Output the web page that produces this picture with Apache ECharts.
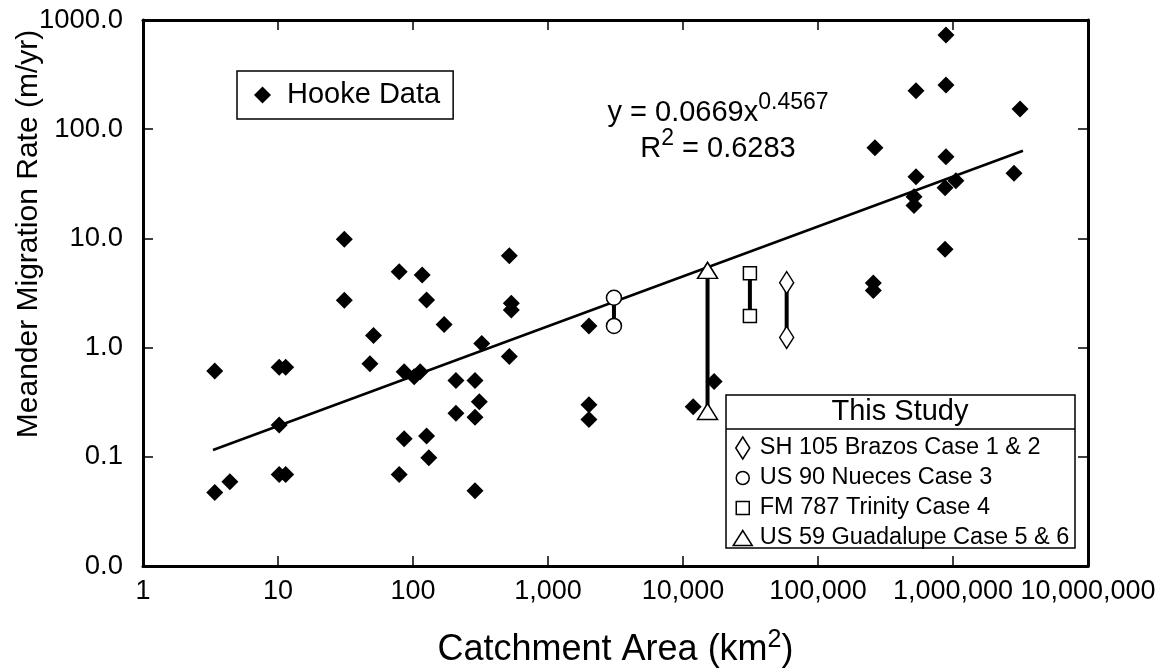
<!DOCTYPE html>
<html>
<head>
<meta charset="utf-8">
<script src="https://cdn.jsdelivr.net/npm/echarts@6/dist/echarts.min.js"></script>
<style>
  html, body { margin: 0; padding: 0; background: #fff; }
  #chart { width: 1171px; height: 669px; }
</style>
</head>
<body>
<div id="chart"></div>
<script>
// Hooke data: catchment area (km²) and meander migration rate (m/yr)
const hookeArea = [3.4, 3.4, 4.4, 10.2, 11.4, 10.2, 10.2, 11.4, 31, 31, 48, 51, 79, 79, 86, 86,
  102, 113, 117, 126, 126, 131, 170, 208, 208, 288, 288, 288, 310, 323, 517, 517, 535, 535,
  2010, 2010, 2010, 11900, 17000, 257000, 257000, 264000, 514000, 514000, 532000, 532000,
  873000, 873000, 887000, 887000, 887000, 1050000, 2830000, 3140000];
const hookeRate = [0.61, 0.047, 0.059, 0.66, 0.66, 0.196, 0.069, 0.069, 9.8, 2.71, 0.71, 1.29, 4.96, 0.069, 0.60, 0.146,
  0.54, 0.60, 4.62, 2.73, 0.155, 0.098, 1.63, 0.50, 0.25, 0.50, 0.23, 0.049, 0.32, 1.09, 6.95, 0.83, 2.55, 2.21,
  1.58, 0.30, 0.22, 0.288, 0.49, 3.9, 3.33, 67.7, 24.1, 20.0, 225, 36.7,
  29.1, 7.95, 730, 254, 56, 33.7, 39.5, 153];

// This study: each site has a pair of rates at one catchment area
const caseNames = ['SH 105 Brazos Case 1 & 2', 'US 90 Nueces Case 3', 'FM 787 Trinity Case 4', 'US 59 Guadalupe Case 5 & 6'];
const caseArea = [58600, 3080, 31300, 15200];
const caseRateHigh = [3.93, 2.86, 4.79, 5.1];
const caseRateLow = [1.24, 1.58, 1.95, 0.26];

// Power-law fit y = a·x^b drawn across the Hooke data range
const fitCoef = 0.0669;
const fitExp = 0.4567;
const fitR2 = 0.6283;
const fitAreaRange = [3.3, 3300000];

// Axis tick labels, one per decade
const xTickLabels = ['1', '10', '100', '1,000', '10,000', '100,000', '1,000,000', '10,000,000'];
const yTickLabels = ['0.0', '0.1', '1.0', '10.0', '100.0', '1000.0'];

const FONT = '"Liberation Sans", Arial, Helvetica, sans-serif';
const BLACK = '#000';

// Symbols for the study sites (series markers and legend icons)
const caseSymbols = ['diamond', 'circle', 'rect', 'triangle'];
const caseSymbolSizes = [[14, 22], 15, 13, [20, 16]];
const caseLegendIcons = [
  'path://M-10,-11 M10,11 M0,-11 L7,0 L0,11 L-7,0 Z',
  'path://M-10,-11 M10,11 M-6.5,0 A6.5,6.5 0 1 1 6.5,0 A6.5,6.5 0 1 1 -6.5,0 Z',
  'path://M-10,-11 M10,11 M-6.5,-6.5 L6.5,-6.5 L6.5,6.5 L-6.5,6.5 Z',
  'path://M-10,-11 M10,11 M0,-7.5 L9.5,7.5 L-9.5,7.5 Z'
];

const fitLine = fitAreaRange.map(a => [a, fitCoef * Math.pow(a, fitExp)]);

const caseSeries = caseNames.map((name, i) => ({
  name: name,
  type: 'line',
  z: 5,
  data: [[caseArea[i], caseRateHigh[i]], [caseArea[i], caseRateLow[i]]],
  symbol: caseSymbols[i],
  symbolSize: caseSymbolSizes[i],
  showSymbol: true,
  lineStyle: { color: BLACK, width: 4, opacity: 1 },
  itemStyle: { color: '#fff', borderColor: BLACK, borderWidth: 1.5, opacity: 1 },
  emphasis: { disabled: true }
}));

const axisCommonX = {
  type: 'log', logBase: 10, min: 1, max: 10000000, interval: 1,
  axisLine: { show: true, lineStyle: { color: BLACK, width: 3 } },
  axisTick: { show: true, inside: true, length: 10, lineStyle: { color: BLACK, width: 1.5 } },
  splitLine: { show: false },
  minorTick: { show: false }
};
const axisCommonY = {
  type: 'log', logBase: 10, min: 0.01, max: 1000, interval: 1,
  axisLine: { show: true, lineStyle: { color: BLACK, width: 3 } },
  axisTick: { show: true, inside: true, length: 10, lineStyle: { color: BLACK, width: 1.5 } },
  splitLine: { show: false },
  minorTick: { show: false }
};

const chart = echarts.init(document.getElementById('chart'), null, { renderer: 'canvas' });

chart.setOption({
  animation: false,
  backgroundColor: '#fff',
  textStyle: { fontFamily: FONT, color: BLACK },
  grid: {
    left: 143, top: 20, width: 945, height: 546,
    containLabel: false, outerBoundsMode: 'none', show: false
  },
  xAxis: [
    Object.assign({}, axisCommonX, {
      position: 'bottom',
      name: 'Catchment Area (km{sup|2})',
      nameLocation: 'middle',
      nameGap: 62,
      nameMoveOverlap: false,
      nameTextStyle: {
        fontFamily: FONT, fontSize: 36, color: BLACK, lineHeight: 44,
        rich: { sup: { fontFamily: FONT, fontSize: 25, color: BLACK, verticalAlign: 'top' } }
      },
      axisLabel: {
        show: true, margin: 12, fontFamily: FONT, fontSize: 27, color: BLACK,
        showMinLabel: true, showMaxLabel: true,
        formatter: v => xTickLabels[Math.round(Math.log10(v))]
      }
    }),
    Object.assign({}, axisCommonX, { position: 'top', axisLabel: { show: false } })
  ],
  yAxis: [
    Object.assign({}, axisCommonY, {
      position: 'left',
      name: 'Meander Migration Rate (m/yr)',
      nameLocation: 'middle',
      nameGap: 99,
      nameRotate: 90,
      nameMoveOverlap: false,
      nameTextStyle: { fontFamily: FONT, fontSize: 30, color: BLACK, padding: [0, 0, 0, 118] },
      axisLabel: {
        show: true, margin: 20, fontFamily: FONT, fontSize: 27.5, color: BLACK,
        showMinLabel: true, showMaxLabel: true,
        formatter: v => yTickLabels[Math.round(Math.log10(v)) + 2]
      }
    }),
    Object.assign({}, axisCommonY, { position: 'right', axisLabel: { show: false } })
  ],
  legend: [
    {
      data: [{ name: 'Hooke Data', icon: 'diamond' }],
      left: 237, top: 71,
      orient: 'horizontal',
      selectedMode: false,
      backgroundColor: '#fff',
      borderColor: BLACK, borderWidth: 1.5, borderRadius: 0,
      padding: [8, 13, 8, 17],
      itemWidth: 17, itemHeight: 17,
      itemStyle: { color: BLACK, opacity: 1 },
      textStyle: { fontFamily: FONT, fontSize: 29, color: BLACK, lineHeight: 32, padding: [0, 0, 0, 11] }
    },
    {
      data: caseNames.map((n, i) => ({ name: n, icon: caseLegendIcons[i] })),
      left: 732, top: 436,
      orient: 'vertical',
      selectedMode: false,
      padding: 0,
      itemGap: 6,
      itemWidth: 20, itemHeight: 22,
      symbolKeepAspect: true,
      itemStyle: { color: '#fff', borderColor: BLACK, borderWidth: 1.5 },
      textStyle: { fontFamily: FONT, fontSize: 23.5, color: BLACK, lineHeight: 22, padding: [0, 0, 0, 2] }
    }
  ],
  graphic: [
    {
      type: 'rect', z: 1,
      shape: { x: 726, y: 395, width: 349, height: 153 },
      style: { fill: '#fff', stroke: BLACK, lineWidth: 1.5 }
    },
    {
      type: 'line', z: 1,
      shape: { x1: 726, y1: 429, x2: 1075, y2: 429 },
      style: { stroke: BLACK, lineWidth: 1.5 }
    },
    {
      type: 'text', z: 2, x: 900, y: 412,
      style: { text: 'This Study', fontFamily: FONT, fontSize: 29, fill: BLACK, align: 'center', verticalAlign: 'middle' }
    },
    {
      type: 'text', z: 2, x: 718, y: 113,
      style: {
        text: 'y = ' + fitCoef.toFixed(4) + 'x{sup|' + fitExp.toFixed(4) + '}',
        fontFamily: FONT, fontSize: 29, fill: BLACK, lineHeight: 44,
        align: 'center', verticalAlign: 'middle',
        rich: { sup: { fontFamily: FONT, fontSize: 23, fill: BLACK, verticalAlign: 'top' } }
      }
    },
    {
      type: 'text', z: 2, x: 718, y: 149,
      style: {
        text: 'R{sup|2} = ' + fitR2.toFixed(4),
        fontFamily: FONT, fontSize: 29, fill: BLACK, lineHeight: 44,
        align: 'center', verticalAlign: 'middle',
        rich: { sup: { fontFamily: FONT, fontSize: 23, fill: BLACK, verticalAlign: 'top' } }
      }
    }
  ],
  series: [
    {
      name: 'Hooke Data',
      type: 'scatter',
      z: 3,
      symbol: 'diamond',
      symbolSize: 17,
      itemStyle: { color: BLACK, opacity: 1 },
      emphasis: { disabled: true },
      data: hookeArea.map((a, i) => [a, hookeRate[i]])
    },
    {
      name: 'Power fit',
      type: 'line',
      z: 2,
      data: fitLine,
      symbol: 'none',
      lineStyle: { color: BLACK, width: 2.5, opacity: 1 },
      emphasis: { disabled: true }
    }
  ].concat(caseSeries)
});
</script>
</body>
</html>
